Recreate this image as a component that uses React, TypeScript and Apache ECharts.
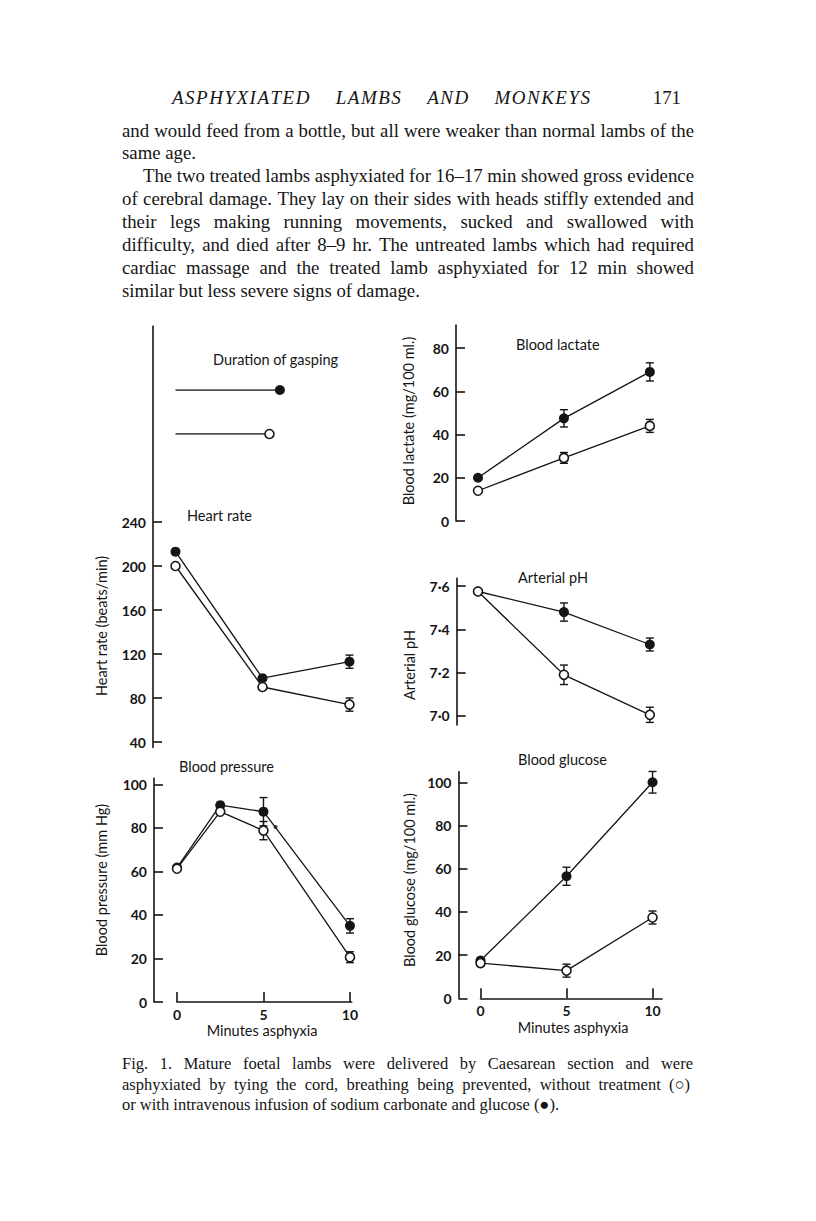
import React, { useEffect, useRef } from "react";
import * as echarts from "echarts";

// ---------- DATA ----------
const minutes = [0, 5, 10];
const bpMinutes = [0, 2.5, 5, 10];

const gaspTreated = 6.0; // min
const gaspUntreated = 5.4; // min

const hrTreated = [213, 98, 113];
const hrTreatedErr = [0, 0, 6];
const hrUntreated = [200, 90, 74];
const hrUntreatedErr = [0, 0, 6];

const bpTreated = [61.8, 90.5, 87.5, 35];
const bpTreatedErr = [0, 0, 6.5, 3.3];
const bpUntreated = [61.3, 87.5, 78.8, 20.6];
const bpUntreatedErr = [0, 0, 4.2, 2.5];
const bpStrayDot = [5.7, 80.5];

const lacTreated = [20, 47.5, 69];
const lacTreatedErr = [0, 4, 4.2];
const lacUntreated = [14, 29.2, 44];
const lacUntreatedErr = [0, 2.5, 3];

const phTreated = [7.575, 7.48, 7.33];
const phTreatedErr = [0, 0.042, 0.03];
const phUntreated = [7.575, 7.19, 7.005];
const phUntreatedErr = [0, 0.045, 0.035];

const gluTreated = [17.5, 56.5, 100];
const gluTreatedErr = [0, 4.2, 5];
const gluUntreated = [16.3, 12.8, 37.4];
const gluUntreatedErr = [0, 3, 3];

const hrTicks = [40, 80, 120, 160, 200, 240];
const bpTicks = [0, 20, 40, 60, 80, 100];
const lacTicks = [0, 20, 40, 60, 80];
const phTicks = [7.0, 7.2, 7.4, 7.6];
const gluTicks = [0, 20, 40, 60, 80, 100];
const minuteTicks = [0, 5, 10];

const headerWords = "ASPHYXIATED LAMBS AND MONKEYS";
const pageNumber = "171";
const bodyLines = [
  "and would feed from a bottle, but all were weaker than normal lambs of the",
  "same age.",
  "The two treated lambs asphyxiated for 16\u201317 min showed gross evidence",
  "of cerebral damage. They lay on their sides with heads stiffly extended and",
  "their legs making running movements, sucked and swallowed with",
  "difficulty, and died after 8\u20139 hr. The untreated lambs which had required",
  "cardiac massage and the treated lamb asphyxiated for 12 min showed",
  "similar but less severe signs of damage.",
];
const captionLines = [
  "Fig. 1. Mature foetal lambs were delivered by Caesarean section and were",
  "asphyxiated by tying the cord, breathing being prevented, without treatment (\u25CB)",
  "or with intravenous infusion of sodium carbonate and glucose (\u25CF).",
];

// ---------- STYLE ----------
const INK = "#151515";
const SERIF = '"Liberation Serif", "Times New Roman", serif';
const SANS = 'Lato, "Open Sans", sans-serif';

const measureCtx = (() => {
  const c = document.createElement("canvas");
  return c.getContext("2d") as CanvasRenderingContext2D;
})();

function setFont(o: any) {
  measureCtx.font = `${o.fontStyle || "normal"} ${o.fontWeight || "normal"} ${o.fontSize}px ${o.fontFamily}`;
}

function textEl(text: string, x: number, y: number, o: any = {}) {
  return {
    type: "text",
    x,
    y,
    rotation: o.rotation || 0,
    silent: true,
    style: {
      text,
      fill: o.fill || INK,
      fontFamily: o.fontFamily || SANS,
      fontSize: o.fontSize || 14,
      fontStyle: o.fontStyle || "normal",
      fontWeight: o.fontWeight || "normal",
      align: o.align || "left",
      verticalAlign: "middle",
      textAlign: o.align || "left",
      textVerticalAlign: "middle",
    },
  };
}

function lineEls(text: string, x0: number, x1: number, y: number, justify: boolean, o: any) {
  if (!justify) return [textEl(text, x0, y, o)];
  setFont(o);
  const words = text.split(" ");
  const widths = words.map((w) => measureCtx.measureText(w).width);
  const total = widths.reduce((a, b) => a + b, 0);
  const gap = (x1 - x0 - total) / (words.length - 1);
  const els: any[] = [];
  let x = x0;
  words.forEach((w, i) => {
    els.push(textEl(w, x, y, o));
    x += widths[i] + gap;
  });
  return els;
}

// letter-spaced, word-justified line (running head)
function spacedEls(text: string, x0: number, x1: number, y: number, ls: number, o: any) {
  setFont(o);
  const words = text.split(" ");
  const wordW = words.map((w) =>
    w.split("").reduce((s, ch) => s + measureCtx.measureText(ch).width + ls, -ls)
  );
  const total = wordW.reduce((a, b) => a + b, 0);
  const gap = (x1 - x0 - total) / (words.length - 1);
  const els: any[] = [];
  let x = x0;
  words.forEach((w, i) => {
    let cx = x;
    w.split("").forEach((ch) => {
      els.push(textEl(ch, cx, y, o));
      cx += measureCtx.measureText(ch).width + ls;
    });
    x += wordW[i] + gap;
  });
  return els;
}

function errorBarSeries(xs: number[], ys: number[], errs: number[], gi: number) {
  return {
    type: "custom",
    xAxisIndex: gi,
    yAxisIndex: gi,
    z: 1,
    silent: true,
    data: xs.map((x, i) => [x, ys[i], errs[i]]),
    renderItem: (params: any, api: any) => {
      const x = api.value(0);
      const y = api.value(1);
      const e = api.value(2);
      if (!e) return null;
      const top = api.coord([x, y + e]);
      const bot = api.coord([x, y - e]);
      const st = { stroke: INK, lineWidth: 1.4 };
      return {
        type: "group",
        children: [
          { type: "line", shape: { x1: top[0], y1: top[1], x2: bot[0], y2: bot[1] }, style: st },
          { type: "line", shape: { x1: top[0] - 4, y1: top[1], x2: top[0] + 4, y2: top[1] }, style: st },
          { type: "line", shape: { x1: bot[0] - 4, y1: bot[1], x2: bot[0] + 4, y2: bot[1] }, style: st },
        ],
      };
    },
  };
}

function lineSeries(xs: number[], ys: number[], gi: number, filled: boolean) {
  return {
    type: "line",
    xAxisIndex: gi,
    yAxisIndex: gi,
    z: filled ? 3 : 4,
    silent: true,
    symbol: "circle",
    symbolSize: filled ? 10 : 9,
    showSymbol: true,
    lineStyle: { color: INK, width: 1.3 },
    itemStyle: filled
      ? { color: INK, borderColor: INK, borderWidth: 0 }
      : { color: "#ffffff", borderColor: INK, borderWidth: 1.6 },
    data: xs.map((x, i) => [x, ys[i]]),
  };
}

function yAxisDef(gi: number, min: number, max: number, ticks: number[], offset: number, fmt?: (v: number) => string) {
  return {
    type: "value",
    gridIndex: gi,
    min,
    max,
    position: "left",
    offset,
    axisLine: { show: true, onZero: false, lineStyle: { color: INK, width: 1.6 } },
    axisTick: { show: true, inside: true, length: 9, customValues: ticks, lineStyle: { color: INK, width: 1.6 } },
    axisLabel: {
      show: true,
      customValues: ticks,
      margin: 7,
      color: INK,
      fontFamily: SANS,
      fontSize: 14,
      fontWeight: "bold",
      formatter: fmt || ((v: number) => String(v)),
    },
    splitLine: { show: false },
  };
}

function hiddenAxis(gi: number, min: number, max: number) {
  return { type: "value", gridIndex: gi, min, max, show: false, splitLine: { show: false } };
}

function xAxisShown(gi: number, max: number) {
  return {
    type: "value",
    gridIndex: gi,
    min: 0,
    max,
    position: "bottom",
    axisLine: { show: true, onZero: false, lineStyle: { color: INK, width: 1.6 } },
    axisTick: { show: true, inside: true, length: 10, customValues: minuteTicks, lineStyle: { color: INK, width: 1.6 } },
    axisLabel: {
      show: true,
      customValues: minuteTicks,
      margin: 5,
      color: INK,
      fontFamily: SANS,
      fontSize: 14,
      fontWeight: "bold",
    },
    splitLine: { show: false },
  };
}

export default function App() {
  const ref = useRef<HTMLDivElement>(null);

  useEffect(() => {
    if (!ref.current) return;
    const chart = echarts.init(ref.current, null, { renderer: "svg" });

    const gridBase = { containLabel: false, outerBoundsMode: "none" };
    const grids = [
      { ...gridBase, left: 175.5, top: 390, width: 179.2, height: 44 }, // 0 gasping
      { ...gridBase, left: 175.5, top: 326.2, width: 179.2, height: 421.3 }, // 1 heart rate
      { ...gridBase, left: 177, top: 778.3, width: 174.7, height: 223.7 }, // 2 blood pressure
      { ...gridBase, left: 478, top: 325, width: 177, height: 196 }, // 3 lactate
      { ...gridBase, left: 478, top: 578.3, width: 177, height: 146.7 }, // 4 pH
      { ...gridBase, left: 480.5, top: 771.7, width: 181.5, height: 226.6 }, // 5 glucose
    ];

    const phFmt = (v: number) => v.toFixed(1).replace(".", "\u00B7");

    const xAxes = [
      hiddenAxis(0, 0, 10.3),
      hiddenAxis(1, 0, 10.3),
      xAxisShown(2, 10.1),
      hiddenAxis(3, 0, 10.3),
      hiddenAxis(4, 0, 10.3),
      xAxisShown(5, 10.55),
    ];
    const yAxes = [
      hiddenAxis(0, 0, 1),
      yAxisDef(1, 35, 418, hrTicks, 22.5),
      yAxisDef(2, 0, 102.85, bpTicks, 23),
      yAxisDef(3, 0, 90.7, lacTicks, 22),
      yAxisDef(4, 6.958, 7.636, phTicks, 21.3, phFmt),
      yAxisDef(5, 0, 104.9, gluTicks, 22),
    ];

    const gaspSeries = [
      {
        type: "line",
        xAxisIndex: 0,
        yAxisIndex: 0,
        silent: true,
        symbol: "circle",
        symbolSize: 10,
        lineStyle: { color: INK, width: 1.3 },
        itemStyle: { color: INK },
        data: [
          { value: [0, 1], symbol: "none" },
          { value: [gaspTreated, 1] },
        ],
      },
      {
        type: "line",
        xAxisIndex: 0,
        yAxisIndex: 0,
        silent: true,
        symbol: "circle",
        symbolSize: 9,
        lineStyle: { color: INK, width: 1.3 },
        itemStyle: { color: "#fff", borderColor: INK, borderWidth: 1.6 },
        data: [
          { value: [0, 0], symbol: "none" },
          { value: [gaspUntreated, 0] },
        ],
      },
    ];

    const series: any[] = [
      ...gaspSeries,
      errorBarSeries(minutes, hrTreated, hrTreatedErr, 1),
      errorBarSeries(minutes, hrUntreated, hrUntreatedErr, 1),
      lineSeries(minutes, hrTreated, 1, true),
      lineSeries(minutes, hrUntreated, 1, false),

      errorBarSeries(bpMinutes, bpTreated, bpTreatedErr, 2),
      errorBarSeries(bpMinutes, bpUntreated, bpUntreatedErr, 2),
      lineSeries(bpMinutes, bpTreated, 2, true),
      lineSeries(bpMinutes, bpUntreated, 2, false),
      {
        type: "scatter",
        xAxisIndex: 2,
        yAxisIndex: 2,
        silent: true,
        symbol: "circle",
        symbolSize: 4,
        itemStyle: { color: INK },
        data: [bpStrayDot],
      },

      errorBarSeries(minutes, lacTreated, lacTreatedErr, 3),
      errorBarSeries(minutes, lacUntreated, lacUntreatedErr, 3),
      lineSeries(minutes, lacTreated, 3, true),
      lineSeries(minutes, lacUntreated, 3, false),

      errorBarSeries(minutes, phTreated, phTreatedErr, 4),
      errorBarSeries(minutes, phUntreated, phUntreatedErr, 4),
      lineSeries(minutes, phTreated, 4, true),
      lineSeries(minutes, phUntreated, 4, false),

      errorBarSeries(minutes, gluTreated, gluTreatedErr, 5),
      errorBarSeries(minutes, gluUntreated, gluUntreatedErr, 5),
      lineSeries(minutes, gluTreated, 5, true),
      lineSeries(minutes, gluUntreated, 5, false),
    ];

    // ---------- page text ----------
    const bodyFont = { fontFamily: SERIF, fontSize: 18.8 };
    const capFont = { fontFamily: SERIF, fontSize: 16.5 };
    const headFont = { fontFamily: SERIF, fontSize: 19, fontStyle: "italic" };

    const g: any[] = [];
    g.push(...spacedEls(headerWords, 172, 590, 97, 1.5, headFont));
    g.push(textEl(pageNumber, 681, 97, { ...bodyFont, align: "right" }));

    const bodyY0 = 130;
    const bodyStep = 22.9;
    bodyLines.forEach((ln, i) => {
      const justify = !(i === 1 || i === bodyLines.length - 1);
      const x0 = i === 2 ? 143 : 122;
      g.push(...lineEls(ln, x0, 694, bodyY0 + i * bodyStep, justify, bodyFont));
    });

    const capY = [1063, 1084, 1104];
    captionLines.forEach((ln, i) => {
      const justify = i < 2;
      g.push(...lineEls(ln, 122, i === 0 ? 693 : 690, capY[i], justify, capFont));
    });

    // panel titles
    const tf = { fontSize: 14.5 };
    g.push(textEl("Duration of gasping", 213, 359, tf));
    g.push(textEl("Heart rate", 187, 515, tf));
    g.push(textEl("Blood pressure", 179, 766, tf));
    g.push(textEl("Blood lactate", 516, 344, tf));
    g.push(textEl("Arterial pH", 518, 577, tf));
    g.push(textEl("Blood glucose", 518, 759, tf));
    g.push(textEl("Minutes asphyxia", 262, 1030, { ...tf, align: "center" }));
    g.push(textEl("Minutes asphyxia", 573, 1027, { ...tf, align: "center" }));

    // y-axis names (rotated)
    const rot = { ...tf, align: "center", rotation: Math.PI / 2 };
    g.push(textEl("Heart rate (beats/min)", 101, 626, rot));
    g.push(textEl("Blood pressure (mm Hg)", 101, 880, rot));
    g.push(textEl("Blood lactate (mg/100 ml.)", 408, 421, rot));
    g.push(textEl("Arterial pH", 409, 665, rot));
    g.push(textEl("Blood glucose (mg/100 ml.)", 409, 880, rot));

    chart.setOption({
      animation: false,
      backgroundColor: "#ffffff",
      grid: grids,
      xAxis: xAxes,
      yAxis: yAxes,
      series,
      graphic: { elements: g },
    });

    return () => chart.dispose();
  }, []);

  return (
    <div
      ref={ref}
      style={{ position: "absolute", left: 0, top: 0, width: 816, height: 1221, background: "#fff" }}
    />
  );
}
